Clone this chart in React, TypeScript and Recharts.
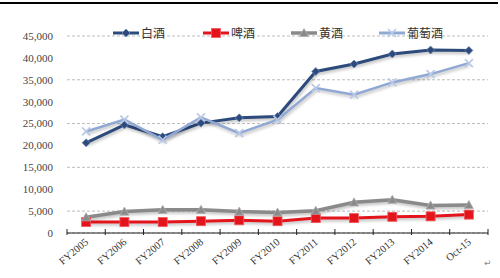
import React from 'react';
import { LineChart, Line, XAxis, YAxis, CartesianGrid, Legend } from 'recharts';

const categories = ['FY2005', 'FY2006', 'FY2007', 'FY2008', 'FY2009', 'FY2010', 'FY2011', 'FY2012', 'FY2013', 'FY2014', 'Oct-15'];
const baijiu = [20600, 24700, 22000, 25100, 26300, 26600, 36900, 38600, 40900, 41800, 41700];
const pijiu = [2500, 2500, 2500, 2700, 2900, 2700, 3400, 3400, 3700, 3800, 4200];
const huangjiu = [3600, 4900, 5300, 5300, 4900, 4700, 5100, 7000, 7600, 6300, 6400];
const putaojiu = [23200, 25900, 21300, 26400, 22800, 25900, 33100, 31600, 34400, 36300, 38800];
const yTicks = [0, 5000, 10000, 15000, 20000, 25000, 30000, 35000, 40000, 45000];

const seriesNames = ['白酒', '啤酒', '黄酒', '葡萄酒'];
const colors = ['#2C4A7C', '#E3141C', '#8A8A8A', '#8FA8D4'];

const data = categories.map((c, i) => ({
  cat: c,
  baijiu: baijiu[i],
  pijiu: pijiu[i],
  huangjiu: huangjiu[i],
  putaojiu: putaojiu[i],
}));

const Diamond = (props: any) => {
  const { cx, cy } = props;
  if (cx == null || cy == null) return null;
  const r = 4;
  return <path d={`M${cx},${cy - r}L${cx + r},${cy}L${cx},${cy + r}L${cx - r},${cy}Z`} fill={colors[0]} stroke="#6E86B0" strokeWidth={0.8} />;
};
const Square = (props: any) => {
  const { cx, cy } = props;
  if (cx == null || cy == null) return null;
  const r = 4.5;
  return <rect x={cx - r} y={cy - r} width={2 * r} height={2 * r} fill={colors[1]} stroke="#F05A5A" strokeWidth={0.8} />;
};
const Triangle = (props: any) => {
  const { cx, cy } = props;
  if (cx == null || cy == null) return null;
  const r = 4.5;
  return <path d={`M${cx},${cy - r}L${cx + r},${cy + r * 0.8}L${cx - r},${cy + r * 0.8}Z`} fill={colors[2]} stroke="#B0B0B0" strokeWidth={0.8} />;
};
const Cross = (props: any) => {
  const { cx, cy } = props;
  if (cx == null || cy == null) return null;
  const r = 4;
  return (
    <g stroke="#B8C8E6" strokeWidth={1.6}>
      <line x1={cx - r} y1={cy - r} x2={cx + r} y2={cy + r} />
      <line x1={cx - r} y1={cy + r} x2={cx + r} y2={cy - r} />
    </g>
  );
};
const markers = [Diamond, Square, Triangle, Cross];

const XTick = (props: any) => {
  const { x, y, payload, index, visibleTicksCount, width } = props;
  const off = payload && payload.offset != null ? payload.offset : width / (2 * visibleTicksCount);
  const last = index === visibleTicksCount - 1;
  return (
    <g>
      <line x1={x - off} y1={y - 4} x2={x - off} y2={y + 2} stroke="#222" strokeWidth={1} />
      {last && <line x1={x + off} y1={y - 4} x2={x + off} y2={y + 2} stroke="#222" strokeWidth={1} />}
      <text x={x + 3} y={y + 10} textAnchor="end" transform={`rotate(-40, ${x + 3}, ${y + 10})`} fontFamily="Liberation Serif, serif" fontSize={10.5} fill="#333">
        {payload.value}
      </text>
    </g>
  );
};

const LegendContent = () => (
  <div style={{ display: 'flex', fontFamily: 'Noto Sans CJK SC, sans-serif', fontSize: 12, color: '#333' }}>
    {seriesNames.map((n, i) => {
      const M = markers[i];
      return (
        <div key={n} style={{ display: 'flex', alignItems: 'center', marginRight: i === 3 ? 0 : [38, 36, 36][i] }}>
          <svg width={26} height={12}>
            <line x1={0} y1={6} x2={26} y2={6} stroke={colors[i]} strokeWidth={i === 2 ? 3.5 : 3} />
            <M cx={13} cy={6} />
          </svg>
          <span style={{ marginLeft: 2, color: '#333' }}>{n}</span>
        </div>
      );
    })}
  </div>
);

const fmt = (v: number) => v.toLocaleString('en-US');

export default function App() {
  const keys = ['baijiu', 'pijiu', 'huangjiu', 'putaojiu'];
  return (
    <div style={{ position: 'absolute', left: 0, top: 0, width: 500, height: 278, background: '#fff' }}>
      <div style={{ position: 'absolute', left: 0, top: 2, width: 498, height: 2, background: '#000' }} />
      <LineChart width={500} height={278} data={data} margin={{ top: 19, right: 12, bottom: 15, left: 0 }}>
        <CartesianGrid vertical={false} stroke="#BDBDBD" strokeDasharray="3 2" />
        <XAxis dataKey="cat" scale="band" height={30} tickSize={0} tickMargin={0} tickLine={false} axisLine={{ stroke: '#222', strokeWidth: 1 }} tick={<XTick />} interval={0} />
        <YAxis width={67} domain={[0, 45000]} ticks={yTicks} tickFormatter={fmt} axisLine={false} tickLine={false} tickSize={6} tickMargin={8} tick={{ fontFamily: 'Liberation Serif, serif', fontSize: 11, fill: '#444' }} />
        <Legend verticalAlign="top" content={<LegendContent />} wrapperStyle={{ position: 'absolute', top: 24, left: 113, width: 370 }} />
        {keys.map((k, i) => {
          const M = markers[i];
          return (
            <Line
              key={k}
              dataKey={k}
              name={seriesNames[i]}
              stroke={colors[i]}
              strokeWidth={i === 2 ? 3.5 : i === 3 ? 2.5 : 3}
              dot={<M />}
              activeDot={false}
              isAnimationActive={false}
              style={{ filter: 'drop-shadow(1px 2px 1.5px rgba(0,0,0,0.25))' }}
            />
          );
        })}
      </LineChart>
      <div style={{ position: 'absolute', left: 484, top: 258, fontSize: 9, color: '#888', fontFamily: 'DejaVu Sans' }}>↵</div>
    </div>
  );
}
